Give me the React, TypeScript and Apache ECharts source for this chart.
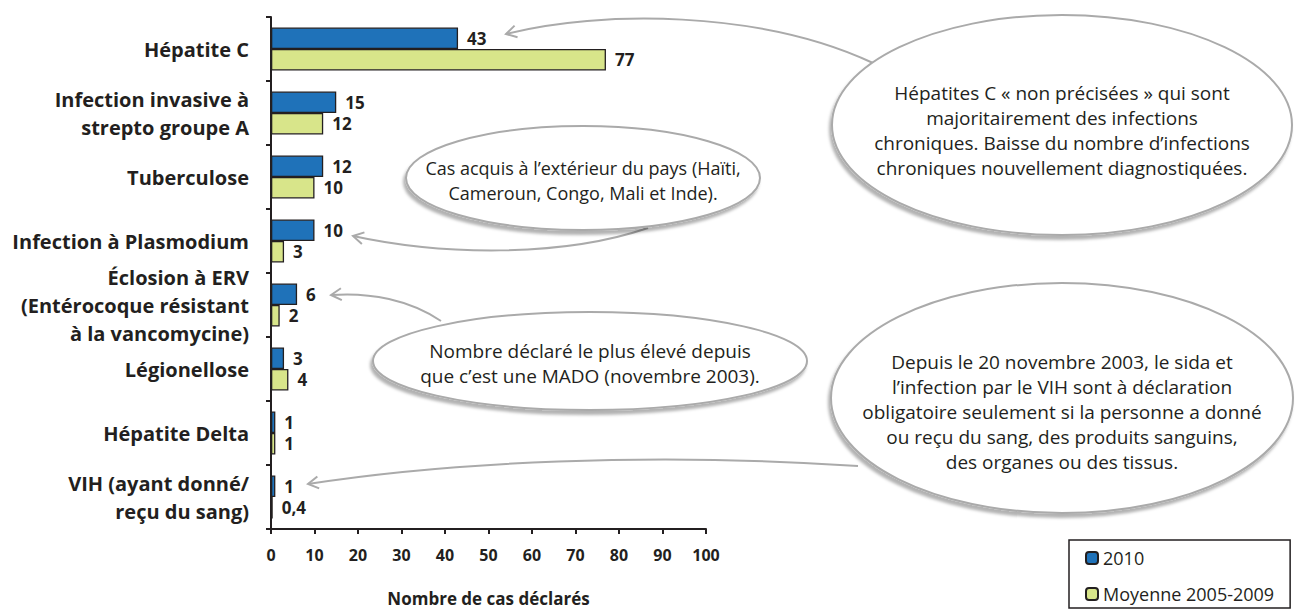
import React, { useEffect, useRef } from "react";
import * as echarts from "echarts";

const categories = [
  "Hépatite C",
  "Infection invasive à\nstrepto groupe A",
  "Tuberculose",
  "Infection à Plasmodium",
  "Éclosion à ERV\n(Entérocoque résistant\nà la vancomycine)",
  "Légionellose",
  "Hépatite Delta",
  "VIH (ayant donné/\nreçu du sang)",
];
const seriesNames = ["2010", "Moyenne 2005-2009"];
const values2010 = [43, 15, 12, 10, 6, 3, 1, 1];
const valuesAvg = [77, 12, 10, 3, 2, 4, 1, 0.4];
const xMin = 0;
const xMax = 100;
const xInterval = 10;
const xTitle = "Nombre de cas déclarés";

const note1 = "Hépatites C « non précisées » qui sont\nmajoritairement des infections\nchroniques. Baisse du nombre d’infections\nchroniques nouvellement diagnostiquées.";
const note2 = "Cas acquis à l’extérieur du pays (Haïti,\nCameroun, Congo, Mali et Inde).";
const note3 = "Nombre déclaré le plus élevé depuis\nque c’est une MADO (novembre 2003).";
const note4 = "Depuis le 20 novembre 2003, le sida et\nl’infection par le VIH sont à déclaration\nobligatoire seulement si la personne a donné\nou reçu du sang, des produits sanguins,\ndes organes ou des tissus.";

const FONT = "'Open Sans', sans-serif";
const GREY = "#aaaaaa";
const INK = "#231f20";

function bubble(cx: number, cy: number, rx: number, ry: number, text: string, ty: number, size: number, lh: number) {
  return [
    {
      type: "ellipse",
      shape: { cx, cy, rx, ry },
      style: {
        fill: "#ffffff",
        stroke: GREY,
        lineWidth: 2,
        shadowBlur: 3,
        shadowOffsetX: -2,
        shadowOffsetY: 4,
        shadowColor: "rgba(0,0,0,0.3)",
      },
      z: 10,
    },
    {
      type: "text",
      x: cx,
      y: ty,
      style: {
        text,
        fill: INK,
        font: `${size}px ${FONT}`,
        lineHeight: lh,
        align: "center",
        verticalAlign: "middle",
      },
      z: 11,
    },
  ];
}

function arrow(p0: number[], c1: number[], c2: number[], p3: number[]) {
  const dx = p3[0] - c2[0];
  const dy = p3[1] - c2[1];
  const len = Math.sqrt(dx * dx + dy * dy) || 1;
  const ux = dx / len;
  const uy = dy / len;
  const L = 12;
  const a = (30 * Math.PI) / 180;
  const cos = Math.cos(a);
  const sin = Math.sin(a);
  const b1 = [p3[0] - L * (ux * cos - uy * sin), p3[1] - L * (uy * cos + ux * sin)];
  const b2 = [p3[0] - L * (ux * cos + uy * sin), p3[1] - L * (uy * cos - ux * sin)];
  return [
    {
      type: "bezierCurve",
      shape: { x1: p0[0], y1: p0[1], cpx1: c1[0], cpy1: c1[1], cpx2: c2[0], cpy2: c2[1], x2: p3[0], y2: p3[1] },
      style: { stroke: GREY, lineWidth: 2, fill: null },
      z: 9,
    },
    {
      type: "polyline",
      shape: { points: [b1, p3, b2] },
      style: { stroke: GREY, lineWidth: 2, fill: null },
      z: 9,
    },
  ];
}

const fmt = (p: any) => String(p.value).replace(".", ",");

export default function App() {
  const ref = useRef<HTMLDivElement>(null);
  useEffect(() => {
    if (!ref.current) return;
    const chart = echarts.init(ref.current, null, { renderer: "svg" });
    const labelStyle = {
      show: true,
      position: "right",
      distance: 9,
      formatter: fmt,
      fontFamily: FONT,
      fontWeight: "bold",
      fontSize: 17,
      color: INK,
    };
    chart.setOption({
      animation: false,
      backgroundColor: "#ffffff",
      textStyle: { fontFamily: FONT },
      grid: { left: 271, right: 603, top: 17, bottom: 83, containLabel: false },
      legend: {
        orient: "vertical",
        left: 1069,
        top: 540,
        height: 200,
        itemWidth: 12,
        itemHeight: 12,
        itemGap: 16,
        padding: [8, 16, 4, 16],
        borderColor: INK,
        borderWidth: 1.5,
        textStyle: { fontFamily: FONT, fontSize: 18, lineHeight: 20, color: INK },
        data: seriesNames,
      },
      xAxis: {
        type: "value",
        min: xMin,
        max: xMax,
        interval: xInterval,
        splitLine: { show: false },
        axisLine: { show: true, lineStyle: { color: INK, width: 2 } },
        axisTick: { show: true, length: 5, lineStyle: { color: INK, width: 2 } },
        axisLabel: { fontFamily: FONT, fontWeight: "bold", fontSize: 16, color: INK, margin: 18 },
        name: xTitle,
        nameLocation: "middle",
        nameGap: 61,
        nameTextStyle: { fontFamily: FONT, fontWeight: "bold", fontSize: 17, color: INK },
      },
      yAxis: {
        type: "category",
        inverse: true,
        data: categories,
        axisLine: { show: true, lineStyle: { color: INK, width: 2 } },
        axisTick: { show: true, length: 5, lineStyle: { color: INK, width: 2 } },
        axisLabel: {
          fontFamily: FONT,
          fontWeight: "bold",
          fontSize: 20,
          lineHeight: 28,
          color: INK,
          margin: 22,
          align: "right",
        },
      },
      series: [
        {
          name: seriesNames[0],
          type: "bar",
          data: values2010,
          barGap: "0%",
          barCategoryGap: "33%",
          itemStyle: { color: "#1f72b9", borderColor: INK, borderWidth: 1.3 },
          label: labelStyle,
        },
        {
          name: seriesNames[1],
          type: "bar",
          data: valuesAvg,
          barGap: "0%",
          barCategoryGap: "33%",
          itemStyle: { color: "#d8e58a", borderColor: INK, borderWidth: 1.3 },
          label: labelStyle,
        },
      ],
      graphic: [
        ...arrow([873, 63], [760, 10], [600, 10], [506, 34]),
        ...arrow([648, 228], [560, 258], [440, 255], [353, 236]),
        ...arrow([441, 321], [410, 300], [370, 292], [331, 295]),
        ...arrow([858, 466], [650, 452], [450, 462], [308, 484]),
        ...bubble(1062, 125, 230, 110, note1, 130, 19, 25),
        ...bubble(583, 178, 177, 52, note2, 180, 18, 25),
        ...bubble(590, 361, 217, 49, note3, 363, 19, 25),
        ...bubble(1062, 398, 231, 115, note4, 412, 19, 25),
      ],
    });
    return () => chart.dispose();
  }, []);
  return (
    <div
      ref={ref}
      style={{ position: "fixed", left: 0, top: 0, width: 1309, height: 612 }}
    />
  );
}
